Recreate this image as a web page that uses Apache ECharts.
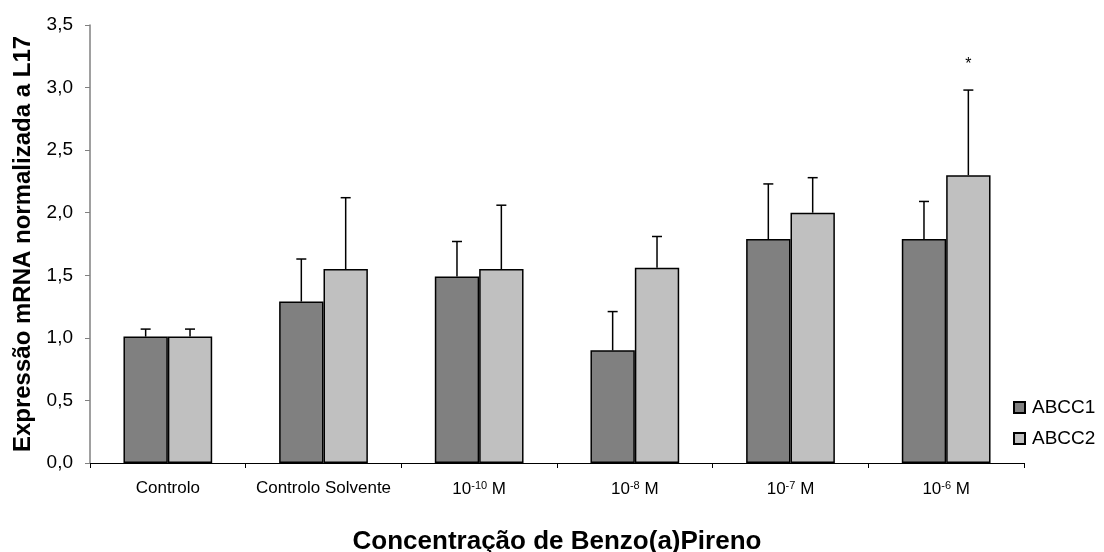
<!DOCTYPE html>
<html>
<head>
<meta charset="utf-8">
<script src="https://cdn.jsdelivr.net/npm/echarts@6/dist/echarts.min.js"></script>
<style>
html,body{margin:0;padding:0;background:#fff;}
#chart{width:1104px;height:552px;}
</style>
</head>
<body>
<div id="chart"></div>
<script>
// ---- data ----
var categories = ['Controlo', 'Controlo Solvente', '10^-10 M', '10^-8 M', '10^-7 M', '10^-6 M'];
var seriesNames = ['ABCC1', 'ABCC2'];
var abcc1 = [1.01, 1.29, 1.49, 0.90, 1.79, 1.79];
var abcc1Upper = [1.07, 1.63, 1.77, 1.21, 2.23, 2.09];
var abcc2 = [1.01, 1.55, 1.55, 1.56, 2.00, 2.30];
var abcc2Upper = [1.07, 2.12, 2.06, 1.81, 2.28, 2.98];
var abcc2Marks = ['', '', '', '', '', '*'];
var yTicks = ['0,0', '0,5', '1,0', '1,5', '2,0', '2,5', '3,0', '3,5'];

var chart = echarts.init(document.getElementById('chart'));

var catGap = 0.43;               // barCategoryGap fraction
var barFrac = (1 - catGap) / 2;  // each bar as fraction of band

function errorSeries(name, values, uppers, sign, marks) {
  var data = values.map(function (v, i) { return [i, v, uppers[i], marks ? marks[i] : '']; });
  return {
    type: 'custom',
    name: name + ' err',
    data: data,
    z: 5,
    silent: true,
    renderItem: function (params, api) {
      var idx = api.value(0);
      var band = api.size([1, 0])[0];
      var off = sign * band * barFrac / 2;
      var base = api.coord([idx, api.value(1)]);
      var top = api.coord([idx, api.value(2)]);
      var x = base[0] + off;
      var children = [
        { type: 'line', shape: { x1: x, y1: base[1], x2: x, y2: top[1] }, style: { stroke: '#000', lineWidth: 1.5 } },
        { type: 'line', shape: { x1: x - 5, y1: top[1], x2: x + 5, y2: top[1] }, style: { stroke: '#000', lineWidth: 1.5 } }
      ];
      var m = data[params.dataIndex][3];
      if (m) {
        children.push({ type: 'text', style: { text: m, x: x, y: top[1] - 25, align: 'center', verticalAlign: 'middle', fill: '#000', font: '16px "Liberation Sans", Arial, sans-serif' } });
      }
      return { type: 'group', children: children };
    }
  };
}

var option = {
  backgroundColor: '#fff',
  animation: false,
  textStyle: { fontFamily: '"Liberation Sans", Arial, sans-serif', color: '#000' },
  grid: { left: 90, right: 80, top: 25, bottom: 89, containLabel: false, outerBoundsMode: 'none' },
  legend: {
    orient: 'vertical',
    left: 1008,
    top: 393,
    itemWidth: 11,
    itemHeight: 11,
    itemGap: 12,
    icon: 'rect',
    data: seriesNames,
    textStyle: { fontSize: 19, color: '#000', padding: [0, 0, 0, 2] }
  },
  xAxis: {
    type: 'category',
    data: categories,
    name: 'Concentração de Benzo(a)Pireno',
    nameLocation: 'middle',
    nameGap: 66,
    nameTextStyle: { fontSize: 26, fontWeight: 'bold', color: '#000' },
    axisLine: { lineStyle: { color: '#000', width: 1 } },
    axisTick: { show: true, length: 5, lineStyle: { color: '#000' } },
    axisLabel: {
      interval: 0,
      margin: 17,
      fontSize: 17,
      color: '#000',
      formatter: function (v) {
        var m = /^10\^(-?\d+)(.*)$/.exec(v);
        if (m) return '10{sup|' + m[1] + '}' + m[2];
        return v;
      },
      rich: { sup: { fontSize: 11, verticalAlign: 'top', padding: [0, 0, 8, 0], color: '#000' } }
    }
  },
  yAxis: {
    type: 'value',
    min: 0,
    max: 3.5,
    interval: 0.5,
    name: 'Expressão mRNA normalizada a L17',
    nameLocation: 'middle',
    nameGap: 55,
    nameTextStyle: { fontSize: 24, fontWeight: 'bold', color: '#000' },
    axisLine: { show: true, lineStyle: { color: '#808080', width: 1.5 } },
    axisTick: { show: true, length: 5, lineStyle: { color: '#808080' } },
    splitLine: { show: false },
    axisLabel: {
      margin: 17,
      fontSize: 19,
      color: '#000',
      formatter: function (v) { return yTicks[Math.round(v / 0.5)]; }
    }
  },
  series: [
    {
      type: 'bar',
      name: seriesNames[0],
      data: abcc1,
      barGap: '0%',
      barCategoryGap: (catGap * 100) + '%',
      itemStyle: { color: '#808080', borderColor: '#000', borderWidth: 1.5 }
    },
    {
      type: 'bar',
      name: seriesNames[1],
      data: abcc2,
      barGap: '0%',
      barCategoryGap: (catGap * 100) + '%',
      itemStyle: { color: '#c0c0c0', borderColor: '#000', borderWidth: 1.5 }
    },
    errorSeries(seriesNames[0], abcc1, abcc1Upper, -1, null),
    errorSeries(seriesNames[1], abcc2, abcc2Upper, 1, abcc2Marks)
  ]
};
chart.setOption(option);
</script>
</body>
</html>
